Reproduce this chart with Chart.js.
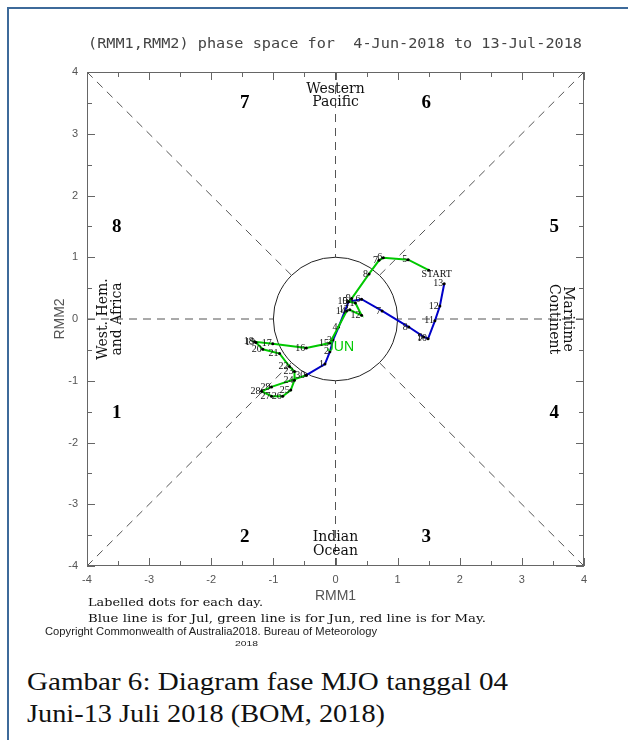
<!DOCTYPE html>
<html><head><meta charset="utf-8">
<script src="https://cdn.jsdelivr.net/npm/chart.js@4.4.0/dist/chart.umd.min.js"></script>
<style>
html,body{margin:0;padding:0;background:#fff;}
body{width:628px;height:740px;position:relative;overflow:hidden;}
#frameTop{position:absolute;left:7px;top:7px;width:621px;height:0;border-top:2px solid #3d6a9a;}
#frameLeft{position:absolute;left:7px;top:7px;width:0;height:733px;border-left:2px solid #3d6a9a;}
canvas{position:absolute;left:0;top:0;}
.t{position:absolute;white-space:pre;transform-origin:0 50%;line-height:1;}
</style></head><body>
<div id="frameTop"></div><div id="frameLeft"></div>
<canvas id="c" width="628" height="660"></canvas>
<div class="t" data-w="494" style="left:88px;top:35px;font:14px 'DejaVu Sans Mono';color:#444;">(RMM1,RMM2) phase space for  4-Jun-2018 to 13-Jul-2018</div>
<div class="t" data-w="175" style="left:88px;top:596px;font:11px 'DejaVu Serif';color:#111;">Labelled dots for each day.</div>
<div class="t" data-w="398" style="left:88px;top:612px;font:11px 'DejaVu Serif';color:#111;">Blue line is for Jul, green line is for Jun, red line is for May.</div>
<div class="t" data-w="332" style="left:45px;top:625px;font:11px 'Liberation Sans';color:#222;">Copyright Commonwealth of Australia2018. Bureau of Meteorology</div>
<div class="t" data-w="23" style="left:235px;top:639px;font:8px 'Liberation Sans';color:#222;">2018</div>
<div class="t" data-w="481" style="left:27px;top:667px;font:26px 'Liberation Serif';color:#111;">Gambar 6: Diagram fase MJO tanggal 04</div>
<div class="t" data-w="358" style="left:27px;top:699px;font:26px 'Liberation Serif';color:#111;">Juni-13 Juli 2018 (BOM, 2018)</div>
<script>
// ---- data ----
const junDays = ['START','5','6','7','8','9','10','11','12','13','14','15','16','17','18','19','20','21','22','23','24','25','26','27','28','29','30'];
const junRMM1 = [1.50,1.17,0.77,0.70,0.54,0.26,0.21,0.32,0.42,0.23,0.18,-0.09,-0.47,-1.01,-1.30,-1.28,-1.17,-0.90,-0.74,-0.66,-0.66,-0.72,-0.85,-1.03,-1.19,-1.03,-0.47];
const junRMM2 = [0.79,0.96,0.99,0.95,0.73,0.33,0.28,0.26,0.06,0.15,0.13,-0.39,-0.47,-0.40,-0.37,-0.38,-0.49,-0.56,-0.77,-0.85,-0.99,-1.15,-1.25,-1.25,-1.17,-1.10,-0.91];
const julDays = ['1','2','3','4','5','6','7','8','9','10','11','12','13'];
const julRMM1 = [-0.17,-0.09,-0.04,0.05,0.21,0.42,0.75,1.18,1.42,1.49,1.60,1.68,1.75];
const julRMM2 = [-0.73,-0.53,-0.34,-0.13,0.28,0.32,0.13,-0.13,-0.29,-0.32,-0.03,0.21,0.57];
const monthLabels = ['JUN'];
const monthRMM1 = [-0.14];
const monthRMM2 = [-0.45];
const phaseNames = ['1','2','3','4','5','6','7','8'];
const phaseRMM1 = [-3.52,-1.46,1.46,3.52,3.52,1.46,-1.46,-3.52];
const phaseRMM2 = [-1.5,-3.52,-3.52,-1.5,1.5,3.52,3.52,1.5];
const tickValues = [-4,-3,-2,-1,0,1,2,3,4];

const GREEN = '#00c800', BLUE = '#0000c8';
const junData = junRMM1.map((v,i)=>({x:v,y:junRMM2[i]}));
const julData = [junData[junData.length-1]].concat(julRMM1.map((v,i)=>({x:v,y:julRMM2[i]})));
const julLabels = [''].concat(julDays);

const phasePlugin = {
  id:'phase',
  beforeDatasetsDraw(chart){
    const {ctx, chartArea:a, scales:{x,y}} = chart;
    const X=v=>x.getPixelForValue(v), Y=v=>y.getPixelForValue(v);
    ctx.save();
    ctx.strokeStyle='#555'; ctx.lineWidth=1; ctx.setLineDash([8,6]);
    const r=Math.SQRT1_2;
    const segs=[[-4,0,-1,0],[4,0,1,0],[0,-4,0,-1],[0,4,0,1],[-4,-4,-r,-r],[4,4,r,r],[-4,4,-r,r],[4,-4,r,-r]];
    segs.forEach(s=>{ctx.beginPath();ctx.moveTo(X(s[0]),Y(s[1]));ctx.lineTo(X(s[2]),Y(s[3]));ctx.stroke();});
    ctx.setLineDash([]);
    ctx.strokeStyle='#222';
    ctx.beginPath(); ctx.ellipse(X(0),Y(0),X(1)-X(0),Y(0)-Y(1),0,0,2*Math.PI); ctx.stroke();
    ctx.strokeStyle='#666';
    ctx.strokeRect(a.left+0.5,a.top+0.5,a.width-1,a.height-1);
    ctx.beginPath();
    for(let k=-8;k<=8;k++){
      const v=k/2, len=(k%2===0)?8:5;
      const px=Math.round(X(v))+0.5, py=Math.round(Y(v))+0.5;
      ctx.moveTo(px,a.bottom); ctx.lineTo(px,a.bottom-len);
      ctx.moveTo(px,a.top); ctx.lineTo(px,a.top+len);
      ctx.moveTo(a.left,py); ctx.lineTo(a.left+len,py);
      ctx.moveTo(a.right,py); ctx.lineTo(a.right-len,py);
    }
    ctx.stroke();
    // phase numbers
    ctx.fillStyle='#000'; ctx.textAlign='center'; ctx.textBaseline='middle';
    ctx.font="bold 19px 'Liberation Serif'";
    phaseNames.forEach((p,i)=>ctx.fillText(p,X(phaseRMM1[i]),Y(phaseRMM2[i])+1));
    // region labels
    ctx.font="14px 'DejaVu Serif'"; ctx.fillStyle='#111';
    ctx.fillText('Western',X(0),Y(3.72)); ctx.fillText('Pacific',X(0),Y(3.51));
    ctx.fillText('Indian',X(0),Y(-3.53)); ctx.fillText('Ocean',X(0),Y(-3.76));
    ctx.save(); ctx.translate(X(-3.73),Y(0)); ctx.rotate(-Math.PI/2); ctx.fillText('West. Hem.',0,0); ctx.restore();
    ctx.save(); ctx.translate(X(-3.51),Y(0)); ctx.rotate(-Math.PI/2); ctx.fillText('and Africa',0,0); ctx.restore();
    ctx.save(); ctx.translate(X(3.73),Y(0)); ctx.rotate(Math.PI/2); ctx.fillText('Maritime',0,0); ctx.restore();
    ctx.save(); ctx.translate(X(3.51),Y(0)); ctx.rotate(Math.PI/2); ctx.fillText('Continent',0,0); ctx.restore();
    ctx.restore();
  },
  afterDatasetsDraw(chart){
    const {ctx, scales:{x,y}} = chart;
    const X=v=>x.getPixelForValue(v), Y=v=>y.getPixelForValue(v);
    ctx.save();
    ctx.font="10px 'Liberation Serif'"; ctx.fillStyle='#111'; ctx.textBaseline='middle';
    const lab=(labels,data)=>labels.forEach((t,i)=>{
      if(!t) return;
      const px=X(data[i].x), py=Y(data[i].y);
      if(t==='START'){ctx.textAlign='center';ctx.fillText(t,px+8,py+4);}
      else {ctx.textAlign='right';ctx.fillText(t,px-1,py);}
    });
    lab(junDays,junData); lab(julLabels,julData);
    ctx.font="14px 'Liberation Sans'"; ctx.fillStyle=GREEN; ctx.textAlign='left';
    monthLabels.forEach((m,i)=>ctx.fillText(m,X(monthRMM1[i]),Y(monthRMM2[i])));
    ctx.restore();
  }
};

new Chart(document.getElementById('c'),{
  type:'scatter',
  data:{datasets:[
    {label:'Jun',data:junData,showLine:true,borderColor:GREEN,borderWidth:2,pointRadius:1.5,pointBackgroundColor:'#000',pointBorderWidth:0,tension:0},
    {label:'Jul',data:julData,showLine:true,borderColor:BLUE,borderWidth:2,pointRadius:1.5,pointBackgroundColor:'#000',pointBorderWidth:0,tension:0}
  ]},
  options:{
    responsive:false,animation:false,
    layout:{padding:{left:0,top:72,right:44,bottom:49}},
    plugins:{legend:{display:false},tooltip:{enabled:false}},
    scales:{
      x:{type:'linear',min:-4,max:4,
        afterBuildTicks:s=>{s.ticks=tickValues.map(v=>({value:v}));},
        afterFit:s=>{s.height=45;},
        grid:{display:false,drawTicks:false},border:{display:false},
        ticks:{padding:7,color:'#555',font:{family:'Liberation Sans',size:11},maxRotation:0},
        title:{display:true,text:'RMM1',color:'#555',font:{family:'Liberation Sans',size:14},padding:{top:0,bottom:6}}},
      y:{type:'linear',min:-4,max:4,
        afterBuildTicks:s=>{s.ticks=tickValues.map(v=>({value:v}));},
        afterFit:s=>{s.width=87;},
        grid:{display:false,drawTicks:false},border:{display:false},
        ticks:{padding:9,color:'#555',font:{family:'Liberation Sans',size:11}},
        title:{display:true,text:'RMM2',color:'#555',font:{family:'Liberation Sans',size:14},padding:{top:52,bottom:0}}}
    }
  },
  plugins:[phasePlugin]
});
document.querySelectorAll('.t').forEach(el=>{
  const w=+el.dataset.w; if(w){const s=w/el.getBoundingClientRect().width; el.style.transform='scaleX('+s+')';}
});
</script>
</body></html>
